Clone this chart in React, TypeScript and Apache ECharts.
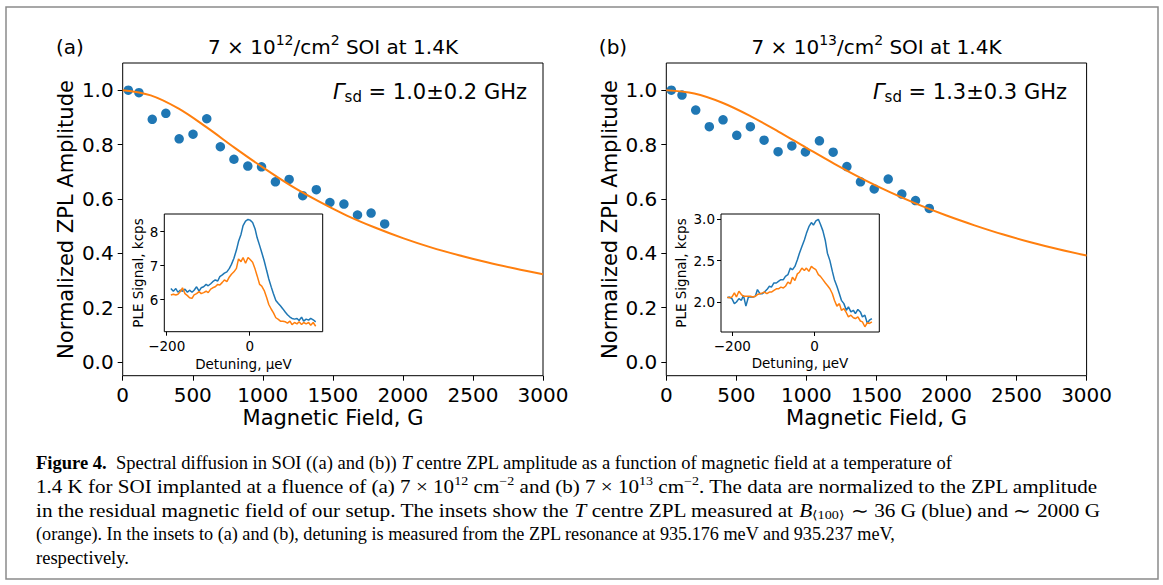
import React, { useEffect, useRef } from "react";
import * as echarts from "echarts";

// ---- Main panels: normalized ZPL amplitude vs magnetic field (G)
const fieldA = [40, 116, 211, 308, 403, 502, 600, 697, 794, 893, 991, 1090, 1188, 1285, 1382, 1479, 1579, 1676, 1773, 1870];
const ampA = [1.0, 0.991, 0.893, 0.915, 0.821, 0.838, 0.895, 0.792, 0.746, 0.721, 0.718, 0.663, 0.672, 0.612, 0.634, 0.587, 0.581, 0.541, 0.548, 0.508];
const fieldB = [36, 112, 210, 307, 405, 503, 600, 698, 798, 896, 993, 1093, 1191, 1289, 1386, 1484, 1584, 1681, 1779, 1877];
const ampB = [1.0, 0.982, 0.927, 0.866, 0.891, 0.834, 0.866, 0.816, 0.774, 0.795, 0.773, 0.814, 0.772, 0.719, 0.663, 0.637, 0.673, 0.618, 0.594, 0.565];

const fitField = [0, 200, 400, 600, 800, 1000, 1200, 1400, 1600, 1800, 2000, 2200, 2400, 2600, 2800, 3000];
const fitA = [1.0, 0.981, 0.932, 0.863, 0.788, 0.716, 0.649, 0.591, 0.539, 0.495, 0.456, 0.422, 0.393, 0.367, 0.344, 0.323];
const fitB = [1.0, 0.988, 0.954, 0.905, 0.848, 0.788, 0.729, 0.674, 0.624, 0.579, 0.539, 0.503, 0.470, 0.441, 0.415, 0.392];

const fieldTicks = [0, 500, 1000, 1500, 2000, 2500, 3000];
const ampTicks = [0, 0.2, 0.4, 0.6, 0.8, 1.0];

// ---- Inset (a): PLE signal (kcps) vs detuning (ueV)
const detA = [-190, -184, -178, -173, -167, -162, -156, -150, -145, -139, -134, -128, -122, -117, -111, -105, -100, -94, -89, -83, -77, -72, -66, -61, -55, -49, -44, -38, -32, -27, -21, -16, -10, -4, 1, 7, 13, 18, 24, 29, 35, 41, 46, 52, 57, 63, 69, 74, 80, 86, 91, 97, 102, 108, 114, 119, 125, 130, 136, 142, 147, 153, 159];
const pleA36 = [6.33, 6.25, 6.33, 6.22, 6.28, 6.25, 6.31, 6.22, 6.28, 6.22, 6.28, 6.38, 6.25, 6.35, 6.38, 6.45, 6.41, 6.47, 6.53, 6.58, 6.55, 6.68, 6.73, 6.78, 6.82, 6.92, 7.04, 7.22, 7.46, 7.71, 7.92, 8.18, 8.31, 8.36, 8.34, 8.27, 8.08, 7.82, 7.59, 7.39, 7.14, 6.85, 6.61, 6.37, 6.18, 5.98, 5.89, 5.82, 5.73, 5.63, 5.56, 5.49, 5.45, 5.43, 5.45, 5.39, 5.49, 5.37, 5.43, 5.40, 5.45, 5.41, 5.35];
const pleA2000 = [6.14, 6.16, 6.14, 6.16, 6.24, 6.35, 6.18, 6.12, 6.06, 6.04, 6.14, 6.18, 6.24, 6.18, 6.21, 6.25, 6.21, 6.31, 6.35, 6.38, 6.45, 6.43, 6.51, 6.58, 6.53, 6.67, 6.75, 6.82, 6.92, 7.20, 7.12, 7.24, 7.07, 7.24, 7.18, 7.10, 6.90, 6.70, 6.45, 6.40, 6.27, 6.06, 5.86, 5.72, 5.62, 5.47, 5.42, 5.37, 5.37, 5.35, 5.31, 5.37, 5.27, 5.33, 5.29, 5.35, 5.27, 5.33, 5.29, 5.33, 5.25, 5.33, 5.22];
const insetATicksX = [-200, 0];
const insetATicksY = [6, 7, 8];

// ---- Inset (b)
const detB = [-212, -207, -201, -195, -190, -184, -178, -173, -167, -161, -156, -150, -144, -139, -133, -127, -122, -116, -110, -105, -99, -93, -88, -82, -76, -71, -65, -59, -54, -48, -42, -37, -31, -25, -20, -14, -8, -3, 3, 9, 14, 20, 26, 31, 37, 43, 48, 54, 60, 65, 71, 77, 82, 88, 94, 99, 105, 111, 116, 122, 128, 133, 139];
const pleB36 = [2.05, 2.06, 2.04, 1.98, 2.00, 2.04, 2.02, 2.08, 1.95, 2.06, 2.06, 2.06, 2.07, 2.15, 2.10, 2.10, 2.12, 2.15, 2.19, 2.18, 2.23, 2.23, 2.25, 2.27, 2.27, 2.31, 2.33, 2.41, 2.39, 2.43, 2.51, 2.59, 2.67, 2.75, 2.83, 2.91, 2.96, 2.93, 2.98, 3.00, 2.94, 2.86, 2.74, 2.59, 2.50, 2.37, 2.27, 2.19, 2.10, 2.02, 1.98, 1.90, 1.94, 1.88, 1.90, 1.86, 1.91, 1.88, 1.82, 1.84, 1.74, 1.78, 1.80];
const pleB2000 = [2.06, 2.05, 2.06, 2.11, 2.06, 2.13, 2.09, 2.07, 2.07, 2.07, 2.07, 2.06, 2.07, 2.09, 2.10, 2.11, 2.12, 2.10, 2.12, 2.12, 2.14, 2.16, 2.16, 2.18, 2.17, 2.19, 2.24, 2.22, 2.30, 2.26, 2.34, 2.36, 2.41, 2.38, 2.41, 2.37, 2.43, 2.41, 2.39, 2.33, 2.31, 2.27, 2.23, 2.20, 2.16, 2.10, 2.02, 1.95, 1.98, 1.90, 1.92, 1.87, 1.82, 1.84, 1.81, 1.80, 1.82, 1.77, 1.76, 1.70, 1.75, 1.74, 1.76];
const insetBTicksX = [-200, 0];
const insetBTicksY = [2.0, 2.5, 3.0];

const BLUE = "#1f77b4";
const ORANGE = "#ff7f0e";
const SANS = "DejaVu Sans";
const SERIF = "Liberation Serif";

const zip = (xs: number[], ys: number[]) => xs.map((x, i) => [x, ys[i]]);
const minusFmt = (v: number) => String(v).replace("-", "\u2212");

function axisPair(gridIndex: number, xr: number[], yr: number[], tx: number[], ty: number[], fs: number, tickLen: number, mx: number, my: number, yFmt: (v: number) => string, z: number) {
  const common = { type: "value", gridIndex, z, splitLine: { show: false }, axisLine: { show: false, onZero: false } };
  const x = {
    ...common, min: xr[0], max: xr[1],
    axisTick: { show: true, customValues: tx, length: tickLen, inside: false, lineStyle: { color: "#000", width: 1 } },
    axisLabel: { customValues: tx, color: "#000", fontFamily: SANS, fontSize: fs, margin: mx, formatter: minusFmt },
  };
  const y = {
    ...common, min: yr[0], max: yr[1],
    axisTick: { show: true, customValues: ty, length: tickLen, inside: false, lineStyle: { color: "#000", width: 1 } },
    axisLabel: { customValues: ty, color: "#000", fontFamily: SANS, fontSize: fs, margin: my, formatter: yFmt },
  };
  return { x, y };
}

function txt(x: number, y: number, text: string, extra: any = {}, el: any = {}) {
  return {
    type: "text", x, y, z: 20, ...el,
    style: { text, fill: "#000", fontFamily: SANS, fontSize: 20, align: "center", verticalAlign: "middle", ...extra },
  };
}

export default function App() {
  const ref = useRef<HTMLDivElement>(null);
  useEffect(() => {
    if (!ref.current) return;
    const chart = echarts.init(ref.current, null, { renderer: "svg" });
    const f1 = (v: number) => v.toFixed(1);
    const f0 = (v: number) => v.toFixed(0);
    const mA = axisPair(0, [0, 3000], [-0.05, 1.1], fieldTicks, ampTicks, 20, 5, 9, 9, f1, 0);
    const mB = axisPair(1, [0, 3000], [-0.05, 1.1], fieldTicks, ampTicks, 20, 5, 9, 9, f1, 0);
    const iA = axisPair(2, [-205.8, 175.9], [5.06, 8.52], insetATicksX, insetATicksY, 13.5, 4, 7, 6, f0, 6);
    const iB = axisPair(3, [-227.5, 157], [1.637, 3.064], insetBTicksX, insetBTicksY, 13.5, 4, 7, 6, f1, 6);

    const titleRich = {
      sup: { fontSize: 14, fontFamily: SANS, padding: [0, 0, 14, 0] },
    };
    const gammaRich = {
      g: { fontSize: 21, fontFamily: SANS, fontStyle: "italic" },
      sub: { fontSize: 15, fontFamily: SANS, padding: [10, 0, 0, 0] },
    };
    const capBase = { fontFamily: SERIF, fontSize: 18, align: "left" };
    const capRich = {
      b: { fontFamily: SERIF, fontSize: 18, fontWeight: "bold" },
      i: { fontFamily: SERIF, fontSize: 18, fontStyle: "italic" },
      sup: { fontFamily: SERIF, fontSize: 12, padding: [0, 0, 12, 0] },
      sub: { fontFamily: SERIF, fontSize: 12, padding: [8, 0, 0, 0] },
    };
    const cap = (y: number, text: string, sx: number) => txt(36, y, text, { ...capBase, rich: capRich }, { scaleX: sx });

    const option: any = {
      animation: false,
      backgroundColor: "#fff",
      grid: [
        { left: 122.7, top: 63, width: 420.3, height: 312.7, show: true, borderColor: "#000", borderWidth: 1, backgroundColor: "transparent", z: 0 },
        { left: 666.3, top: 63, width: 420.3, height: 312.7, show: true, borderColor: "#000", borderWidth: 1, backgroundColor: "transparent", z: 0 },
        { left: 164.3, top: 214, width: 158.4, height: 117.7, show: true, borderColor: "#000", borderWidth: 1, backgroundColor: "#fff", z: 5 },
        { left: 721, top: 214, width: 158.3, height: 118, show: true, borderColor: "#000", borderWidth: 1, backgroundColor: "#fff", z: 5 },
      ],
      xAxis: [mA.x, mB.x, iA.x, iB.x],
      yAxis: [mA.y, mB.y, iA.y, iB.y],
      series: [
        { type: "scatter", xAxisIndex: 0, yAxisIndex: 0, data: zip(fieldA, ampA), symbolSize: 9.5, itemStyle: { color: BLUE, opacity: 1 }, z: 2 },
        { type: "line", xAxisIndex: 0, yAxisIndex: 0, data: zip(fitField, fitA), smooth: 0.35, showSymbol: false, lineStyle: { color: ORANGE, width: 2 }, z: 3 },
        { type: "scatter", xAxisIndex: 1, yAxisIndex: 1, data: zip(fieldB, ampB), symbolSize: 9.5, itemStyle: { color: BLUE, opacity: 1 }, z: 2 },
        { type: "line", xAxisIndex: 1, yAxisIndex: 1, data: zip(fitField, fitB), smooth: 0.35, showSymbol: false, lineStyle: { color: ORANGE, width: 2 }, z: 3 },
        { type: "line", xAxisIndex: 2, yAxisIndex: 2, data: zip(detA, pleA36), showSymbol: false, lineStyle: { color: BLUE, width: 1.5 }, z: 7 },
        { type: "line", xAxisIndex: 2, yAxisIndex: 2, data: zip(detA, pleA2000), showSymbol: false, lineStyle: { color: ORANGE, width: 1.5 }, z: 7 },
        { type: "line", xAxisIndex: 3, yAxisIndex: 3, data: zip(detB, pleB36), showSymbol: false, lineStyle: { color: BLUE, width: 1.5 }, z: 7 },
        { type: "line", xAxisIndex: 3, yAxisIndex: 3, data: zip(detB, pleB2000), showSymbol: false, lineStyle: { color: ORANGE, width: 1.5 }, z: 7 },
      ],
      graphic: [
        { type: "rect", z: 1, shape: { x: 6, y: 7, width: 1152, height: 572 }, style: { fill: "none", stroke: "#8a8a8a", lineWidth: 1.5 } },
        // panel (a)
        txt(70, 47, "(a)"),
        txt(333, 47, "7 \u00d7 10{sup|12}/cm{sup|2} SOI at 1.4K", { rich: titleRich }),
        txt(527, 92, "{g|\u0393}{sub|sd} = 1.0\u00b10.2 GHz", { rich: gammaRich, align: "right", fontSize: 21 }),
        txt(66, 219.5, "Normalized ZPL Amplitude", { fontSize: 21 }, { rotation: Math.PI / 2 }),
        txt(333, 418, "Magnetic Field, G", { fontSize: 21 }),
        txt(138, 273, "PLE Signal, kcps", { fontSize: 13.5 }, { rotation: Math.PI / 2 }),
        txt(243.5, 364, "Detuning, \u00b5eV", { fontSize: 13.5 }),
        // panel (b)
        txt(613, 47, "(b)"),
        txt(876.5, 47, "7 \u00d7 10{sup|13}/cm{sup|2} SOI at 1.4K", { rich: titleRich }),
        txt(1067, 92, "{g|\u0393}{sub|sd} = 1.3\u00b10.3 GHz", { rich: gammaRich, align: "right", fontSize: 21 }),
        txt(610, 219.5, "Normalized ZPL Amplitude", { fontSize: 21 }, { rotation: Math.PI / 2 }),
        txt(876.5, 418, "Magnetic Field, G", { fontSize: 21 }),
        txt(681, 273, "PLE Signal, kcps", { fontSize: 13.5 }, { rotation: Math.PI / 2 }),
        txt(800, 363, "Detuning, \u00b5eV", { fontSize: 13.5 }),
        // caption
        cap(463, "{b|Figure 4.}  Spectral diffusion in SOI ((a) and (b)) {i|T} centre ZPL amplitude as a function of magnetic field at a temperature of", 1.03),
        cap(487, "1.4 K for SOI implanted at a fluence of (a) 7 \u00d7 10{sup|12} cm{sup|\u22122} and (b) 7 \u00d7 10{sup|13} cm{sup|\u22122}. The data are normalized to the ZPL amplitude", 1.17),
        cap(511, "in the residual magnetic field of our setup. The insets show the {i|T} centre ZPL measured at {i|B}{sub|\u27e8100\u27e9} \u223c 36 G (blue) and \u223c 2000 G", 1.18),
        cap(534, "(orange). In the insets to (a) and (b), detuning is measured from the ZPL resonance at 935.176 meV and 935.237 meV,", 1.01),
        cap(558, "respectively.", 1.03),
      ],
    };
    chart.setOption(option);
    return () => chart.dispose();
  }, []);
  return <div ref={ref} style={{ position: "fixed", left: 0, top: 0, width: 1163, height: 585 }} />;
}
